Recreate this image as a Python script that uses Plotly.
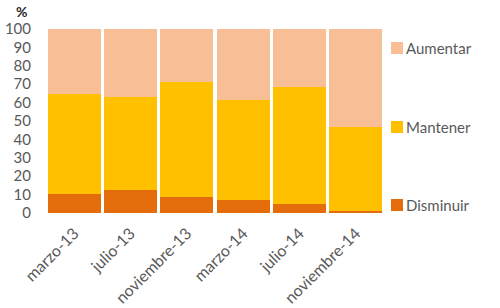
import plotly.graph_objects as go

categories = ["marzo-13", "julio-13", "noviembre-13", "marzo-14", "julio-14", "noviembre-14"]
disminuir = [10.6, 12.7, 8.7, 6.8, 5.1, 0.9]
mantener = [54.2, 50.1, 62.3, 54.6, 63.3, 45.9]
aumentar = [35.2, 37.2, 29.0, 38.6, 31.6, 53.2]
y_ticks = [0, 10, 20, 30, 40, 50, 60, 70, 80, 90, 100]

series_names = ["Disminuir", "Mantener", "Aumentar"]
series_colors = ["#E46C0A", "#FFC000", "#F8BE96"]
series_values = [disminuir, mantener, aumentar]

FONT = "Lato, Noto Sans, sans-serif"
GREY = "#595959"

W, H = 500, 308
L, R, T, B = 46, 116, 29, 95
PW, PH = W - L - R, H - T - B


def px_x(x):
    return (x - L) / PW


def px_y(y):
    return (H - B - y) / PH


fig = go.Figure()
for name, color, vals in zip(series_names, series_colors, series_values):
    fig.add_bar(x=categories, y=vals, name=name, marker_color=color,
                marker_line_width=0, showlegend=False)

# custom legend (right side, spread vertically)
legend_y = {"Aumentar": 48, "Mantener": 127, "Disminuir": 205}
shapes, annotations = [], []
for name, color in zip(series_names, series_colors):
    cy = legend_y[name]
    shapes.append(dict(type="rect", xref="paper", yref="paper",
                       x0=px_x(391), x1=px_x(403), y0=px_y(cy + 6), y1=px_y(cy - 6),
                       fillcolor=color, line_width=0))
    annotations.append(dict(text=name, x=px_x(404), y=px_y(cy), xref="paper", yref="paper",
                            xanchor="left", yanchor="middle", showarrow=False,
                            font=dict(size=15, color=GREY)))

annotations.append(dict(text="<b>%</b>", x=px_x(21), y=px_y(12), xref="paper", yref="paper",
                        xanchor="center", yanchor="middle", showarrow=False, borderpad=0,
                        font=dict(size=14, color="#262626")))

fig.update_layout(
    barmode="stack",
    bargap=0.06,
    width=W, height=H,
    margin=dict(l=L, r=R, t=T, b=B, autoexpand=False),
    paper_bgcolor="white", plot_bgcolor="white",
    font=dict(family=FONT, color=GREY, size=15),
    showlegend=False,
    xaxis=dict(tickangle=-45, showline=False, showgrid=False, ticks="",
               automargin=False, ticklabelstandoff=7,
               tickfont=dict(size=16, color=GREY)),
    yaxis=dict(range=[0, 100], tickvals=y_ticks, showgrid=False, showline=False,
               zeroline=False, ticks="", ticklabelstandoff=14, automargin=False,
               tickfont=dict(size=15, color=GREY)),
    shapes=shapes,
    annotations=annotations,
)

fig.write_html("out.html")
